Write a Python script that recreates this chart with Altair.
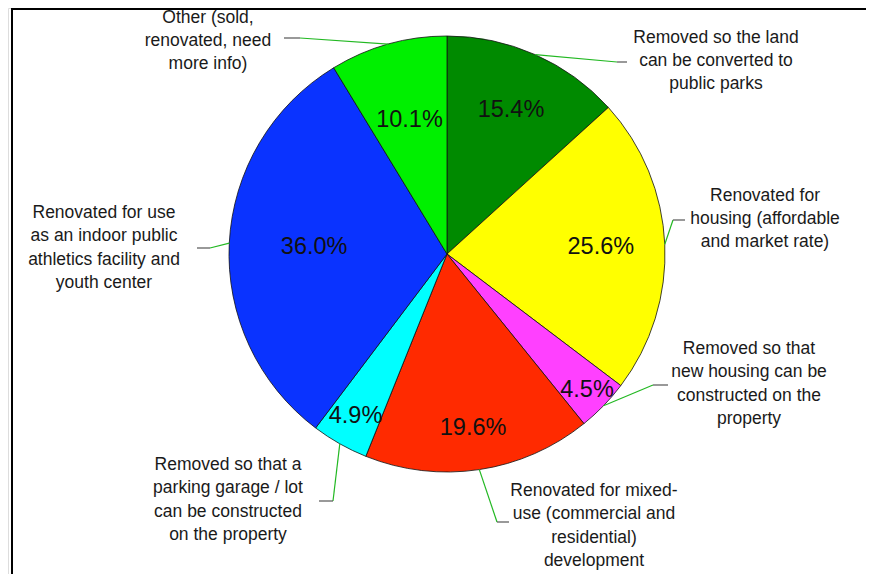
import altair as alt
import pandas as pd

# ---- data ----
categories = [
    "Removed so the land can be converted to public parks",
    "Renovated for housing (affordable and market rate)",
    "Removed so that new housing can be constructed on the property",
    "Renovated for mixed-use (commercial and residential) development",
    "Removed so that a parking garage / lot can be constructed on the property",
    "Renovated for use as an indoor public athletics facility and youth center",
    "Other (sold, renovated, need more info)",
]
values = [15.4, 25.6, 4.5, 19.6, 4.9, 36.0, 10.1]
label_lines = [
    "Removed so the land\ncan be converted to\npublic parks",
    "Renovated for\nhousing (affordable\nand market rate)",
    "Removed so that\nnew housing can be\nconstructed on the\nproperty",
    "Renovated for mixed-\nuse (commercial and\nresidential)\ndevelopment",
    "Removed so that a\nparking garage / lot\ncan be constructed\non the property",
    "Renovated for use\nas an indoor public\nathletics facility and\nyouth center",
    "Other (sold,\nrenovated, need\nmore info)",
]
colors = ["#008A00", "#FFFF00", "#FF40FF", "#FF2A00", "#00FFFF", "#0A33FF", "#00F000"]

# ---- layout of the annotations (pixels, chart coordinates) ----
CX, CY, R = 439, 246, 218
W, H = 858, 566
LH = 23.3
pct_radius = [158, 154, 195, 176, 186, 133, 139]
label_x = [708, 757, 741, 586, 220, 96, 200]
label_y = [53, 211, 376, 518, 492, 240, 33]
elbow_x = [609, 665, 645, 489, 325, 202, 292]
elbow_y = [54, 212, 377, 514, 493, 240, 30]
end_x = [619, 677, 660, 501, 311, 189, 276]
end_y = [54, 212, 377, 514, 493, 240, 30]

df = pd.DataFrame({
    "category": categories,
    "value": values,
    "label": label_lines,
    "idx": list(range(len(values))),
    "pr": pct_radius,
    "lx": label_x, "ly": label_y,
    "bx": elbow_x, "by": elbow_y,
    "ex": end_x, "ey": end_y,
})

base = (
    alt.Chart(df)
    .transform_joinaggregate(total="sum(value)")
    .transform_window(cum="sum(value)", sort=[alt.SortField("idx")], frame=[None, 0])
    .transform_calculate(
        mid="(datum.cum - datum.value / 2) / datum.total * 2 * PI",
        nlines="length(split(datum.label, '\\n'))",
    )
    .transform_calculate(
        sx=f"{CX} + {R} * sin(datum.mid)",
        sy=f"{CY} - {R} * cos(datum.mid)",
        px=f"{CX} + datum.pr * sin(datum.mid)",
        py=f"{CY} - datum.pr * cos(datum.mid)",
        ly0=f"datum.ly - (datum.nlines - 1) * {LH} / 2",
        pct="format(datum.value, '.1f') + '%'",
    )
)

pie = alt.Chart(df).mark_arc(radius=R, stroke="#111111", strokeWidth=0.8).encode(
    theta=alt.Theta("value:Q", stack=True),
    order=alt.Order("idx:Q"),
    color=alt.Color("category:N", scale=alt.Scale(domain=categories, range=colors), legend=None),
    x=alt.value(CX),
    y=alt.value(CY),
)

lead1 = base.mark_rule(color="#22b822", strokeWidth=1.2).encode(
    x=alt.X("sx:Q", scale=None), y=alt.Y("sy:Q", scale=None),
    x2="bx:Q", y2="by:Q",
)
lead2 = base.mark_rule(color="#555555", strokeWidth=1.2).encode(
    x=alt.X("bx:Q", scale=None), y=alt.Y("by:Q", scale=None),
    x2="ex:Q", y2="ey:Q",
)

pct = base.mark_text(font="Liberation Sans", fontSize=23.5, color="#111111",
                     align="center", baseline="middle").encode(
    x=alt.X("px:Q", scale=None), y=alt.Y("py:Q", scale=None), text="pct:N",
)

labels = base.mark_text(font="Liberation Sans", fontSize=17.5, color="#1a1a1a",
                        align="center", baseline="middle", lineBreak="\n",
                        lineHeight=LH).encode(
    x=alt.X("lx:Q", scale=None), y=alt.Y("ly0:Q", scale=None), text="label:N",
)

frame_src = alt.Data(values=[{"k": 0}])
top_line = alt.Chart(frame_src).mark_rule(color="#000000", strokeWidth=2).encode(
    x=alt.value(3), x2=alt.value(W), y=alt.value(1),
)
left_line = alt.Chart(frame_src).mark_rule(color="#000000", strokeWidth=2).encode(
    x=alt.value(4), y=alt.value(0), y2=alt.value(H),
)

chart = (
    alt.layer(pie, lead1, lead2, pct, labels, top_line, left_line)
    .properties(width=W, height=H, autosize=alt.AutoSizeParams(type="none"), padding=0)
    .configure_view(stroke=None)
    .configure(background="white")
)

chart.save("out.html", embed_options={"renderer": "svg", "actions": False})
